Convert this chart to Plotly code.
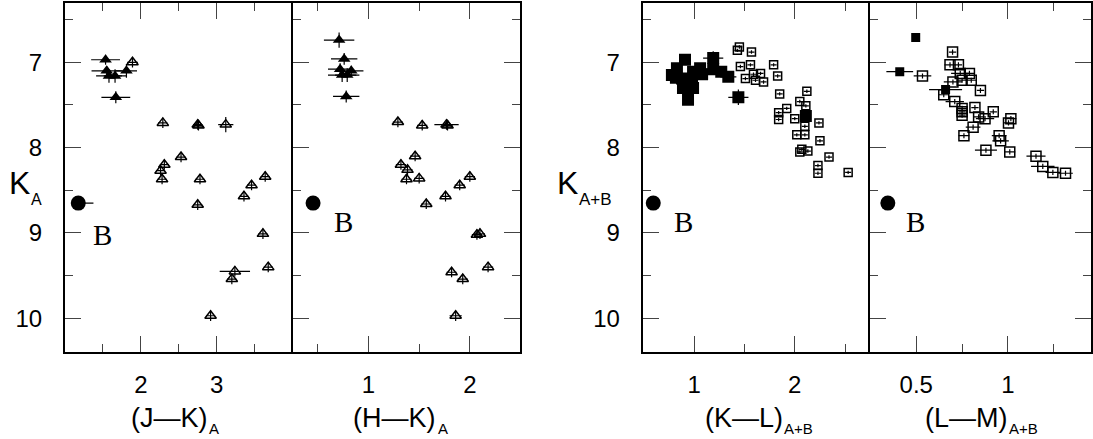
import plotly.graph_objects as go

# ---------------- data ----------------
# Panel 1: (J-K)_A vs K_A
jk_fill = [1.535, 1.55, 1.58, 1.66, 1.81, 1.67]
kA_jk_fill = [6.97, 7.10, 7.16, 7.16, 7.10, 7.41]
jk_fill_ex = [0.19, 0.20, 0.17, 0.15, 0.14, 0.19]
jk_fill_ey = [0.06, 0.05, 0.08, 0.08, 0.08, 0.07]

jk_open = [1.89, 2.29, 2.75, 2.76, 3.12, 2.53, 2.31, 2.26, 2.28, 2.78, 2.75, 3.64, 3.46, 3.36, 3.61, 3.68, 3.24, 3.20, 2.92]
kA_jk_open = [7.00, 7.71, 7.73, 7.74, 7.73, 8.11, 8.20, 8.27, 8.37, 8.37, 8.67, 8.34, 8.44, 8.57, 9.01, 9.40, 9.45, 9.54, 9.97]
jk_open_ex = [0.07, 0.06, 0.06, 0.06, 0.10, 0.06, 0.06, 0.06, 0.06, 0.06, 0.06, 0.06, 0.06, 0.06, 0.06, 0.06, 0.20, 0.06, 0.06]
jk_open_ey = [0.06, 0.06, 0.06, 0.06, 0.09, 0.06, 0.06, 0.06, 0.06, 0.06, 0.06, 0.06, 0.06, 0.06, 0.06, 0.06, 0.06, 0.06, 0.06]

# Panel 2: (H-K)_A vs K_A
hk_fill = [0.71, 0.76, 0.72, 0.83, 0.74, 0.79, 0.78]
kA_hk_fill = [6.74, 6.96, 7.08, 7.10, 7.15, 7.15, 7.40]
hk_fill_ex = [0.15, 0.13, 0.12, 0.12, 0.14, 0.12, 0.13]
hk_fill_ey = [0.09, 0.07, 0.07, 0.06, 0.08, 0.08, 0.07]

hk_open = [1.29, 1.53, 1.77, 1.78, 1.46, 1.32, 1.385, 1.375, 1.50, 2.00, 1.90, 1.76, 1.57, 2.07, 2.10, 2.18, 1.82, 1.93, 1.86]
kA_hk_open = [7.70, 7.74, 7.73, 7.74, 8.10, 8.20, 8.26, 8.37, 8.36, 8.34, 8.44, 8.57, 8.66, 9.02, 9.01, 9.40, 9.46, 9.54, 9.97]
hk_open_ex = [0.05, 0.05, 0.12, 0.05, 0.05, 0.05, 0.05, 0.05, 0.05, 0.05, 0.05, 0.05, 0.05, 0.05, 0.05, 0.05, 0.05, 0.05, 0.06]
hk_open_ey = [0.06, 0.06, 0.06, 0.06, 0.06, 0.06, 0.06, 0.06, 0.06, 0.06, 0.06, 0.06, 0.06, 0.06, 0.06, 0.06, 0.06, 0.06, 0.06]

# Panel 3: (K-L)_A+B vs K_A+B
kl_fill = [0.91, 0.83, 0.78, 1.06, 0.99, 0.88, 0.98, 0.89, 0.99, 0.94, 1.08, 0.93, 0.82, 1.19, 1.19, 1.27, 1.34, 1.44, 2.11]
kAB_kl_fill = [6.97, 7.07, 7.15, 7.07, 7.11, 7.19, 7.23, 7.30, 7.30, 7.44, 7.14, 7.25, 7.18, 6.95, 7.08, 7.11, 7.17, 7.41, 7.63]
kl_fill_ex = [0, 0, 0, 0, 0, 0, 0, 0, 0, 0, 0, 0, 0, 0.10, 0.08, 0.06, 0.08, 0.10, 0.03]
kl_fill_ey = [0, 0, 0, 0, 0, 0, 0, 0, 0, 0, 0, 0, 0, 0.08, 0.07, 0.04, 0.06, 0.09, 0.03]

kl_open = [1.45, 1.43, 1.57, 1.46, 1.56, 1.51, 1.59, 1.66, 1.61, 1.69, 1.79, 1.83, 1.85, 1.92, 1.84, 1.84,
           2.12, 2.05, 2.11, 2.00, 2.10, 2.02, 2.10, 2.05, 2.13, 2.07, 2.24, 2.25, 2.34, 2.23, 2.23, 2.53]
kAB_kl_open = [6.82, 6.86, 6.88, 7.05, 7.03, 7.19, 7.14, 7.13, 7.21, 7.23, 7.03, 7.16, 7.37, 7.54, 7.59, 7.67,
               7.34, 7.46, 7.51, 7.66, 7.75, 7.85, 7.85, 8.05, 8.04, 8.02, 7.71, 7.92, 8.11, 8.21, 8.30, 8.29]
kl_open_ex = [0.03] * 32
kl_open_ey = [0.02] * 32

# Panel 4: (L-M)_A+B vs K_A+B
lm_fill = [0.497, 0.41, 0.66]
kAB_lm_fill = [6.71, 7.11, 7.32]
lm_fill_ex = [0.0, 0.073, 0.09]
lm_fill_ey = [0.0, 0.02, 0.03]

lm_open = [0.534, 0.698, 0.684, 0.73, 0.74, 0.79, 0.70, 0.75, 0.80, 0.85, 0.65, 0.71, 0.75, 0.75, 0.75,
           0.82, 0.84, 0.875, 0.92, 0.81, 0.76, 1.016, 1.003, 0.952, 0.96, 1.01, 0.88, 1.153, 1.19, 1.245, 1.314]
kAB_lm_open = [7.16, 6.88, 7.03, 7.03, 7.13, 7.13, 7.23, 7.21, 7.21, 7.33, 7.38, 7.46, 7.54, 7.58, 7.62,
               7.53, 7.64, 7.66, 7.58, 7.76, 7.86, 7.66, 7.71, 7.86, 7.92, 8.05, 8.03, 8.10, 8.22, 8.29, 8.30]
lm_open_ex = [0.048, 0.02, 0.03, 0.02, 0.05, 0.03, 0.05, 0.03, 0.03, 0.02, 0.03, 0.05, 0.03, 0.02, 0.02,
              0.02, 0.03, 0.05, 0.02, 0.04, 0.03, 0.03, 0.03, 0.04, 0.045, 0.03, 0.06, 0.052, 0.064, 0.04, 0.04]
lm_open_ey = [0.03] * 31

# Component B
b_x = [1.175, 0.453, 0.595, 0.345]
b_k = [8.65, 8.65, 8.65, 8.65]

# axis ticks
p1_ticks, p1_minor, p1_range = [2, 3], [1.5, 2.5, 3.5], [1.0, 4.0]
p2_ticks, p2_minor, p2_range = [1, 2], [0.5, 1.5], [0.25, 2.495]
p3_ticks, p3_minor, p3_range = [1, 2], [1.5, 2.5], [0.49, 2.742]
p4_ticks, p4_labels, p4_minor, p4_range = [0.5, 1], ["0.5", "1"], [0.75, 1.25], [0.245, 1.453]
k_ticks, k_minor, k_range = [7, 8, 9, 10], [6.5, 7.5, 8.5, 9.5], [10.398, 6.305]

# ---------------- figure ----------------
W, H = 1093, 439
fig = go.Figure()


def errs(ex, ey):
    return (dict(type="data", array=ex, visible=True, color="black", thickness=1.2, width=0),
            dict(type="data", array=ey, visible=True, color="black", thickness=1.2, width=0))


def add(x, y, ex, ey, xa, ya, symbol, size, lw=1.5):
    ex_d, ey_d = errs(ex, ey)
    fig.add_trace(go.Scatter(
        x=x, y=y, mode="markers", xaxis=xa, yaxis=ya, showlegend=False,
        error_x=ex_d, error_y=ey_d,
        marker=dict(symbol=symbol, size=size, color="black",
                    line=dict(color="black", width=lw))))


add(jk_open, kA_jk_open, jk_open_ex, jk_open_ey, "x", "y", "triangle-up-open", 10)
add(jk_fill, kA_jk_fill, jk_fill_ex, jk_fill_ey, "x", "y", "triangle-up", 11, 0)
add(hk_open, kA_hk_open, hk_open_ex, hk_open_ey, "x2", "y2", "triangle-up-open", 10)
add(hk_fill, kA_hk_fill, hk_fill_ex, hk_fill_ey, "x2", "y2", "triangle-up", 11, 0)
add(kl_open, kAB_kl_open, kl_open_ex, kl_open_ey, "x3", "y3", "square-open", 8)
add(kl_fill, kAB_kl_fill, kl_fill_ex, kl_fill_ey, "x3", "y3", "square", 12, 0)
add(lm_open, kAB_lm_open, lm_open_ex, lm_open_ey, "x4", "y4", "square-open", 10)
add(lm_fill, kAB_lm_fill, lm_fill_ex, lm_fill_ey, "x4", "y4", "square", 9, 0)

for i, (xa, ya) in enumerate([("x", "y"), ("x2", "y2"), ("x3", "y3"), ("x4", "y4")]):
    fig.add_trace(go.Scatter(
        x=[b_x[i]], y=[b_k[i]], mode="markers", xaxis=xa, yaxis=ya, showlegend=False,
        error_x=dict(type="data", array=[0.2 if i == 0 else 0], arrayminus=[0],
                     color="black", thickness=1.2, width=0),
        marker=dict(symbol="circle", size=15, color="black")))

TICKFONT = dict(family="Liberation Sans, Arial, sans-serif", size=24, color="black")

xdom = [[65 / W, 292.5 / W], [292.5 / W, 520 / W], [642.7 / W, 869.5 / W], [869.5 / W, 1091 / W]]
ydom = [1 - 352.3 / H, 1 - 3 / H]


def xax(dom, rng, tv, tt, minor, anchor):
    return dict(domain=dom, range=rng, anchor=anchor, tickmode="array", tickvals=tv, ticktext=tt,
                ticks="inside", ticklen=16, tickwidth=1, tickcolor="#444",
                minor=dict(tickmode="array", tickvals=minor, ticks="inside", ticklen=8, tickwidth=1, tickcolor="#444"),
                showline=True, linecolor="black", linewidth=2, mirror="ticks",
                showgrid=False, zeroline=False, tickfont=TICKFONT, ticklabelstandoff=10)


def yax(anchor, labels, mirror, match=None):
    d = dict(domain=ydom, range=k_range, anchor=anchor, tickmode="array", tickvals=k_ticks,
             ticktext=[str(v) for v in k_ticks],
             ticks="inside", ticklen=16, tickwidth=1, tickcolor="#444",
             minor=dict(tickmode="array", tickvals=k_minor, ticks="inside", ticklen=8, tickwidth=1, tickcolor="#444"),
             showline=True, linecolor="black", linewidth=2, mirror=mirror,
             showgrid=False, zeroline=False, showticklabels=labels, tickfont=TICKFONT,
             ticklabelstandoff=16)
    if match:
        d["matches"] = match
    return d


fig.update_layout(
    width=W, height=H, margin=dict(l=0, r=0, t=0, b=0),
    paper_bgcolor="white", plot_bgcolor="white",
    xaxis=xax(xdom[0], p1_range, p1_ticks, [str(v) for v in p1_ticks], p1_minor, "y"),
    xaxis2=xax(xdom[1], p2_range, p2_ticks, [str(v) for v in p2_ticks], p2_minor, "y2"),
    xaxis3=xax(xdom[2], p3_range, p3_ticks, [str(v) for v in p3_ticks], p3_minor, "y3"),
    xaxis4=xax(xdom[3], p4_range, p4_ticks, p4_labels, p4_minor, "y4"),
    yaxis=yax("x", True, False),
    yaxis2=yax("x2", False, "ticks", "y"),
    yaxis3=yax("x3", True, False),
    yaxis4=yax("x4", False, "ticks", "y3"),
)

SANS = "Liberation Sans, Arial, sans-serif"
SERIF = "Liberation Serif, Times New Roman, serif"
ann = []


def txt(x, y, s, size, family=SANS, xanchor="center", xref="paper", yref="paper"):
    if xref == "paper":
        x = x / W
    if yref == "paper":
        y = 1 - y / H
    ann.append(dict(x=x, y=y, xref=xref, yref=yref, text=s, showarrow=False,
                    font=dict(family=family, size=size, color="black"),
                    xanchor=xanchor, yanchor="middle", borderpad=0))


# x-axis titles (main text + subscript)
txt(209, 418, "(J\u2014K)", 27, xanchor="right")
txt(208, 428, "A", 15, xanchor="left")
txt(437, 418, "(H\u2014K)", 27, xanchor="right")
txt(437, 428, "A", 15, xanchor="left")
txt(784, 418, "(K\u2014L)", 27, xanchor="right")
txt(783, 428, "A+B", 15, xanchor="left")
txt(1009, 418, "(L\u2014M)", 27, xanchor="right")
txt(1008, 428, "A+B", 15, xanchor="left")
# y-axis titles
txt(31, 183, "K", 32, xanchor="right")
txt(30, 199, "A", 16, xanchor="left")
txt(579, 183, "K", 32, xanchor="right")
txt(578, 199, "A+B", 17, xanchor="left")

# "B" labels in data coordinates
b_lab_x = [1.50, 0.75, 0.90, 0.497]
b_lab_k = [9.02, 8.87, 8.87, 8.87]
for i, (xa, ya) in enumerate([("x", "y"), ("x2", "y2"), ("x3", "y3"), ("x4", "y4")]):
    txt(b_lab_x[i], b_lab_k[i], "B", 29, family=SERIF, xref=xa, yref=ya)

fig.update_layout(annotations=ann)
fig.write_html("out.html")
